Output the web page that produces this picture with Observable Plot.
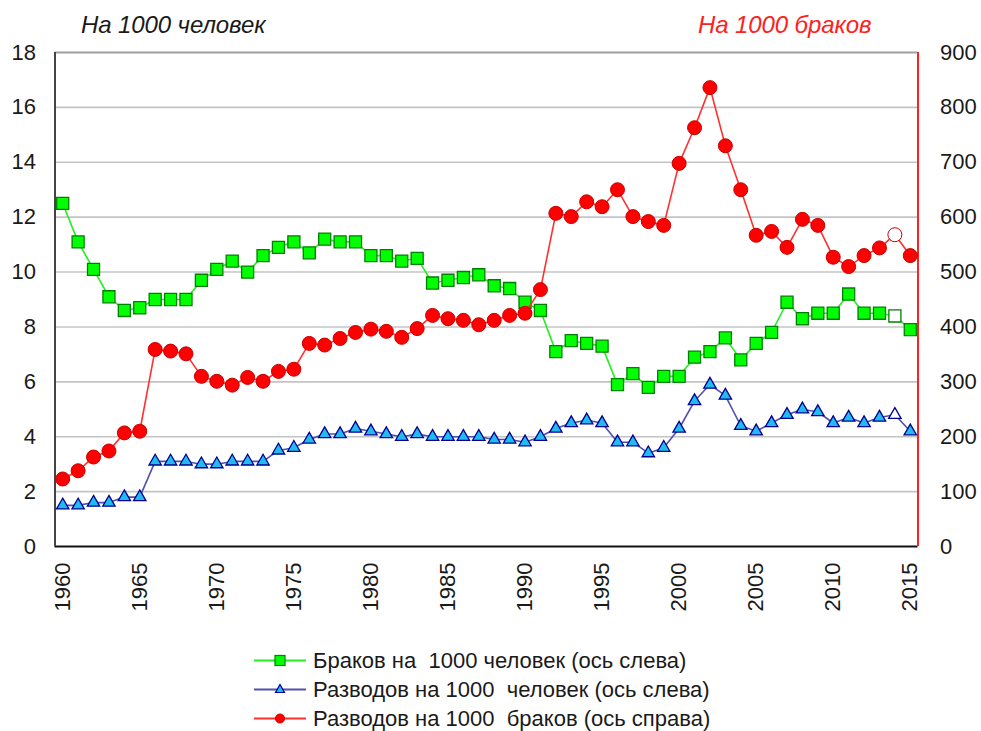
<!DOCTYPE html>
<html><head><meta charset="utf-8">
<script src="https://cdn.jsdelivr.net/npm/d3@7"></script>
<script src="https://cdn.jsdelivr.net/npm/@observablehq/plot@0.6"></script>
<style>
body{margin:0;background:#fff;font-family:"Liberation Sans",Arial,sans-serif;}
#wrap{width:981px;height:731px;position:relative;overflow:hidden;background:#fff;}
#head{position:relative;height:30px;}
.hl{position:absolute;top:13px;font-style:italic;font-size:24px;line-height:24px;letter-spacing:-0.1px;white-space:pre;}
#legend{position:relative;height:91px;}
.row{position:absolute;left:254px;height:29px;display:flex;align-items:center;}
.row span{font-size:22px;margin-left:7px;color:#1a1a1a;white-space:pre;}
</style></head>
<body>
<div id="wrap">
  <div id="head">
    <div class="hl" style="left:81px;color:#1a1a1a">На 1000 человек</div>
    <div class="hl" style="left:698px;color:#ff2020">На 1000 браков</div>
  </div>
  <div id="chart"></div>
  <div id="legend"></div>
</div>
<script>
const years = [1960,1961,1962,1963,1964,1965,1966,1967,1968,1969,
  1970,1971,1972,1973,1974,1975,1976,1977,1978,1979,
  1980,1981,1982,1983,1984,1985,1986,1987,1988,1989,
  1990,1991,1992,1993,1994,1995,1996,1997,1998,1999,
  2000,2001,2002,2003,2004,2005,2006,2007,2008,2009,
  2010,2011,2012,2013,2014,2015];
const marriagesPer1000 = [12.5,11.1,10.1,9.1,8.6,8.7,9.0,9.0,9.0,9.7,
  10.1,10.4,10.0,10.6,10.9,11.1,10.7,11.2,11.1,11.1,
  10.6,10.6,10.4,10.5,9.6,9.7,9.8,9.9,9.5,9.4,
  8.9,8.6,7.1,7.5,7.4,7.3,5.9,6.3,5.8,6.2,
  6.2,6.9,7.1,7.6,6.8,7.4,7.8,8.9,8.3,8.5,
  8.5,9.2,8.5,8.5,8.4,7.9];
const divorcesPer1000 = [1.5,1.5,1.6,1.6,1.8,1.8,3.1,3.1,3.1,3.0,
  3.0,3.1,3.1,3.1,3.5,3.6,3.9,4.1,4.1,4.3,
  4.2,4.1,4.0,4.1,4.0,4.0,4.0,4.0,3.9,3.9,
  3.8,4.0,4.3,4.5,4.6,4.5,3.8,3.8,3.4,3.6,
  4.3,5.3,5.9,5.5,4.4,4.2,4.5,4.8,5.0,4.9,
  4.5,4.7,4.5,4.7,4.8,4.2];
const divorcesPer1000Marriages = [123,138,163,174,207,210,359,356,351,310,
  301,294,308,301,319,323,370,367,379,390,
  396,392,381,397,421,415,412,404,412,421,
  425,468,607,601,628,619,650,601,592,585,
  698,763,836,730,650,567,574,545,596,585,
  527,510,530,544,568,530];
const estimateYear = 2014;          // hollow (estimated) markers
const xTicks = [1960,1965,1970,1975,1980,1985,1990,1995,2000,2005,2010,2015];
const leftTicks = [0,2,4,6,8,10,12,14,16,18];
const leftDomain = [0, 18];
const rightDomain = [0, 900];
const xDomain = [1959.5, 2015.5];
const seriesNames = ["Браков на  1000 человек (ось слева)",
                     "Разводов на 1000  человек (ось слева)",
                     "Разводов на 1000  браков (ось справа)"];

const ratio = rightDomain[1] / leftDomain[1];
const rows = years.map((y, i) => ({
  year: y, m: marriagesPer1000[i], d: divorcesPer1000[i], r: divorcesPer1000Marriages[i] / ratio
}));

const G = {line:"#22ee22", fill:"#00ff00", stroke:"#008000"};
const B = {line:"#5050b0", fill:"#22bbf0", stroke:"#000090"};
const R = {line:"#ff3030", fill:"#ff0000", stroke:"#c80000"};
const fillOf = (c) => (d) => d.year === estimateYear ? "white" : c.fill;

const plot = Plot.plot({
  width: 981,
  height: 610,
  marginTop: 22,
  marginBottom: 94,
  marginLeft: 54.5,
  marginRight: 63.5,
  style: {fontFamily: "'Liberation Sans', Arial, sans-serif", fontSize: "22px", color: "#1a1a1a", background: "white", overflow: "visible"},
  x: {domain: xDomain},
  y: {domain: leftDomain},
  marks: [
    Plot.gridY(leftTicks.filter(t => t > leftDomain[0] && t < leftDomain[1]), {stroke: "#c4c4c4", strokeOpacity: 1, strokeWidth: 1.6}),
    Plot.ruleY([leftDomain[1]], {stroke: "#a0a0a0", strokeWidth: 2}),
    Plot.ruleY([leftDomain[0]], {stroke: "#111", strokeWidth: 2}),
    Plot.ruleX([xDomain[0]], {stroke: "#444", strokeWidth: 2}),
    Plot.ruleX([xDomain[1]], {stroke: "#ff2020", strokeWidth: 2}),
    Plot.axisY({anchor: "left", ticks: leftTicks, tickSize: 0, tickPadding: 19, label: null, fontSize: 22}),
    Plot.axisY({anchor: "right", ticks: leftTicks, tickFormat: d => String(d * ratio), tickSize: 0, tickPadding: 22, label: null, fontSize: 22}),
    Plot.axisX({ticks: xTicks, tickFormat: d => String(d), tickRotate: -90, tickSize: 0, tickPadding: 16, label: null, fontSize: 22}),
    Plot.line(rows, {x: "year", y: "m", stroke: G.line, strokeWidth: 1.6}),
    Plot.dot(rows, {x: "year", y: "m", symbol: "square", r: 6.8, fill: fillOf(G), stroke: G.stroke, strokeWidth: 1.3}),
    Plot.line(rows, {x: "year", y: "d", stroke: B.line, strokeWidth: 1.6}),
    Plot.dot(rows, {x: "year", y: "d", symbol: "triangle", r: 4.6, fill: fillOf(B), stroke: B.stroke, strokeWidth: 1.3}),
    Plot.line(rows, {x: "year", y: "r", stroke: R.line, strokeWidth: 1.6}),
    Plot.dot(rows, {x: "year", y: "r", symbol: "circle", r: 7, fill: fillOf(R), stroke: R.stroke, strokeWidth: 1}),
  ]
});
document.getElementById("chart").appendChild(plot);

// legend
const legend = document.getElementById("legend");
const specs = [
  {c: G, shape: "square"},
  {c: B, shape: "triangle"},
  {c: R, shape: "circle"}
];
specs.forEach((s, i) => {
  const row = document.createElement("div");
  row.className = "row";
  row.style.top = (6 + i * 29) + "px";
  let marker;
  if (s.shape === "square") marker = `<rect x="21" y="9.5" width="10" height="10" fill="${s.c.fill}" stroke="${s.c.stroke}" stroke-width="1.2"/>`;
  else if (s.shape === "triangle") marker = `<path d="M26,9.5 L30.5,17.5 L21.5,17.5 Z" fill="${s.c.fill}" stroke="${s.c.stroke}" stroke-width="1.2"/>`;
  else marker = `<circle cx="26" cy="14.5" r="4.5" fill="${s.c.fill}" stroke="${s.c.stroke}" stroke-width="1"/>`;
  row.innerHTML = `<svg width="52" height="29"><line x1="0" x2="52" y1="14.5" y2="14.5" stroke="${s.c.line}" stroke-width="2"/>${marker}</svg><span>${seriesNames[i]}</span>`;
  legend.appendChild(row);
});
</script>
</body></html>
